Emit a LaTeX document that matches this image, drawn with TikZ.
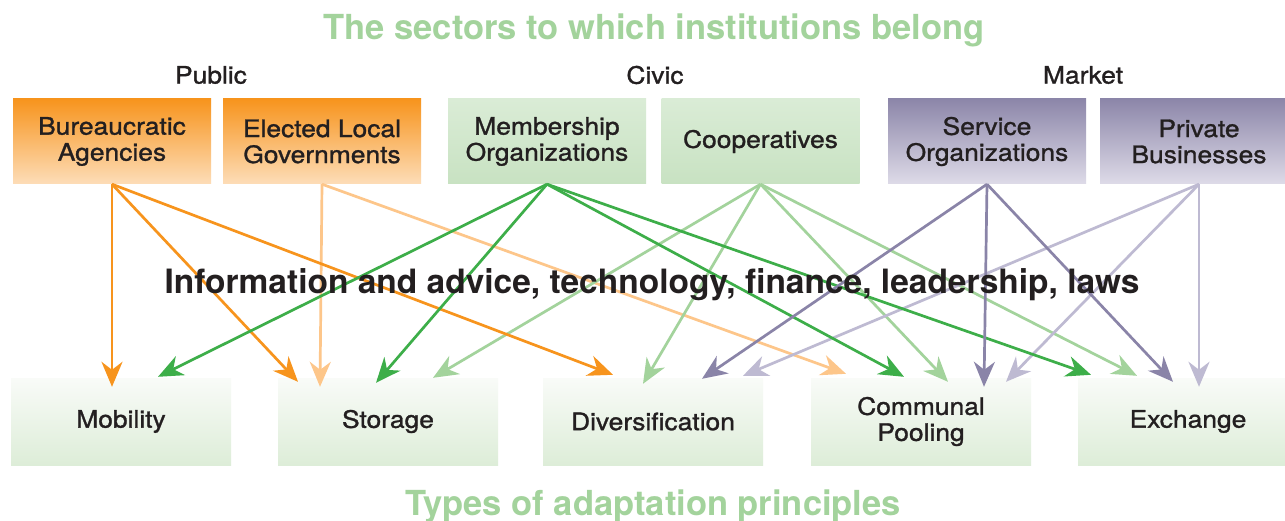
\documentclass[tikz,border=0pt]{standalone}
\usepackage{fontspec}
\setmainfont{TeX Gyre Heros}
\newfontfamily\medfont[FakeBold=1.2, FakeStretch=1.1]{TeX Gyre Heros}
\usetikzlibrary{arrows.meta}

\definecolor{ink}{HTML}{231F20}
\definecolor{titlegreen}{HTML}{A3D39C}
\definecolor{orA}{HTML}{F7941D}
\definecolor{orB}{HTML}{FDC68A}
\definecolor{grA}{HTML}{3DAE49}
\definecolor{grB}{HTML}{A3D39C}
\definecolor{puA}{HTML}{8A84A8}
\definecolor{puB}{HTML}{BEBAD2}
\definecolor{orTop}{HTML}{F7941D}
\definecolor{orBot}{HTML}{FDDDB8}
\definecolor{gnTop}{HTML}{DAECD6}
\definecolor{gnBot}{HTML}{C8E2C2}
\definecolor{puTop}{HTML}{8C86A9}
\definecolor{puBot}{HTML}{DEDBE8}
\definecolor{lwTop}{HTML}{F9FBF8}
\definecolor{lwBot}{HTML}{DDEDD8}

\tikzset{
  sectorbox/.style={rectangle, minimum width=198pt, minimum height=85pt,
    inner sep=0pt, align=center, text=ink, font=\medfont\fontsize{24}{26}\selectfont},
  publicbox/.style={sectorbox, top color=orTop, bottom color=orBot},
  civicbox/.style={sectorbox, top color=gnTop, bottom color=gnBot},
  marketbox/.style={sectorbox, top color=puTop, bottom color=puBot},
  principlebox/.style={rectangle, minimum width=220pt, minimum height=87pt,
    inner sep=0pt, align=center, text=ink, font=\medfont\fontsize{24}{26}\selectfont,
    top color=lwTop, bottom color=lwBot},
  sectorlabel/.style={text=ink, font=\medfont\fontsize{24}{26}\selectfont},
  headline/.style={text=titlegreen, font=\bfseries\fontsize{34.5}{40}\selectfont},
  link/.style={line width=2.7pt,
    -{Stealth[length=25pt, width=21pt, inset=8pt]}},
  orlink/.style={link, draw=orA, fill=orA},
  orlite/.style={link, draw=orB, fill=orB},
  grlink/.style={link, draw=grA, fill=grA},
  grlite/.style={link, draw=grB, fill=grB},
  pulink/.style={link, draw=puA, fill=puA},
  pulite/.style={link, draw=puB, fill=puB},
}

\begin{document}
\begin{tikzpicture}[x=1pt, y=-1pt]
\clip (0,0) rectangle (1285,521);
\fill[white] (0,0) rectangle (1285,521);

% headings
\node[headline] (toptitle) at (654,30) {The sectors to which institutions belong};
\node[headline] (bottitle) at (653,506) {Types of adaptation principles};

\node[sectorlabel] (public) at (211,75) {Public};
\node[sectorlabel] (civic)  at (655,75) {Civic};
\node[sectorlabel] (market) at (1083,75) {Market};

% institution sectors
\node[publicbox] (bur) at (112,141.5) {Bureaucratic\\Agencies};
\node[publicbox] (ele) at (322,141.5) {Elected Local\\Governments};
\node[civicbox]  (mem) at (547,141.5) {Membership\\Organizations};
\node[civicbox]  (coo) at (760.5,141.5) {Cooperatives};
\node[marketbox] (svc) at (987,141.5) {Service\\Organizations};
\node[marketbox] (pri) at (1199,141.5) {Private\\Businesses};

% adaptation principles
\node[principlebox] (mob) at (121,421.5) {Mobility};
\node[principlebox] (sto) at (388,421.5) {Storage};
\node[principlebox] (div) at (653,421.5) {Diversification};
\node[principlebox] (com) at (921,421.5) {Communal\\Pooling};
\node[principlebox] (exc) at (1188,421.5) {Exchange};

% light connectors
\draw[orlite] (ele.south) -- ([shift={(-68,9)}]sto.north);
\draw[orlite] (ele.south) -- ([shift={(-75,-4)}]com.north);
\draw[grlite] (coo.south) -- ([shift={(45,0)}]sto.north);
\draw[grlite] (coo.south) -- ([shift={(-10,6)}]div.north);
\draw[grlite] (coo.south) -- ([shift={(27,4)}]com.north);
\draw[grlite] (coo.south) -- ([shift={(-51,-2)}]exc.north);
\draw[pulite] (pri.south) -- ([shift={(90,-2)}]div.north);
\draw[pulite] (pri.south) -- ([shift={(85,4)}]com.north);
\draw[pulite] (pri.south) -- ([shift={(11,9)}]exc.north);

% strong connectors
\draw[orlink] (bur.south) -- ([shift={(-9,9)}]mob.north);
\draw[orlink] (bur.south) -- ([shift={(-90,4)}]sto.north);
\draw[orlink] (bur.south) -- ([shift={(-40,-3)}]div.north);
\draw[grlink] (mem.south) -- ([shift={(37,-1)}]mob.north);
\draw[grlink] (mem.south) -- ([shift={(-12,5)}]sto.north);
\draw[grlink] (mem.south) -- ([shift={(-17,-1)}]com.north);
\draw[grlink] (mem.south) -- ([shift={(-97,-3)}]exc.north);
\draw[pulink] (svc.south) -- ([shift={(49,1)}]div.north);
\draw[pulink] (svc.south) -- ([shift={(63,9)}]com.north);
\draw[pulink] (svc.south) -- ([shift={(-15,4)}]exc.north);

% what flows along the connectors
\node[text=ink, font=\bfseries\fontsize{33.5}{40}\selectfont] (flows) at (652,285)
  {Information and advice, technology, finance, leadership, laws};
\end{tikzpicture}
\end{document}
